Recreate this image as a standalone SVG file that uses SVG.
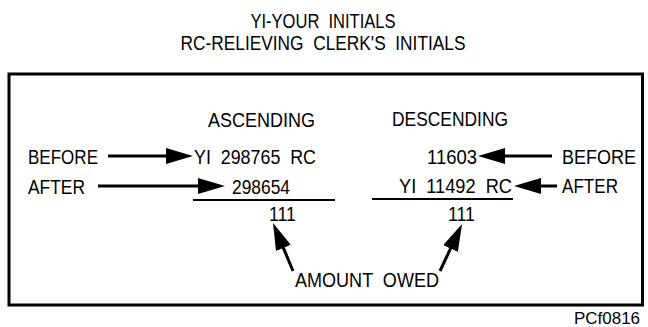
<svg xmlns="http://www.w3.org/2000/svg" width="648" height="327" viewBox="0 0 648 327" xml:space="preserve">
<defs>
<style>
text{font-family:"Liberation Sans",Arial,sans-serif;font-size:20px;fill:#000;white-space:pre}
.small{font-size:16.5px}
.ln{stroke:#000;stroke-width:3;fill:none}
.rule{stroke:#000;stroke-width:2;fill:none}
</style>
<marker id="ah" viewBox="0 0 27 16" refX="17" refY="8" markerWidth="27" markerHeight="16" markerUnits="userSpaceOnUse" orient="auto">
<path d="M0,0 L27,8 L0,16 Z" fill="#000"/>
</marker>
</defs>
<rect width="648" height="327" fill="#fff"/>
<g id="title">
<text x="323" y="28" text-anchor="middle" textLength="145" lengthAdjust="spacingAndGlyphs">YI-YOUR  INITIALS</text>
<text x="323" y="50" text-anchor="middle" textLength="285" lengthAdjust="spacingAndGlyphs">RC-RELIEVING  CLERK'S  INITIALS</text>
</g>
<g id="frame">
<rect x="9" y="74" width="633.5" height="231" fill="none" stroke="#000" stroke-width="3"/>
</g>
<g id="ascending">
<text x="208" y="127" textLength="107" lengthAdjust="spacingAndGlyphs">ASCENDING</text>
<text x="194" y="164" textLength="122" lengthAdjust="spacingAndGlyphs">YI  298765  RC</text>
<text x="232" y="194" textLength="58" lengthAdjust="spacingAndGlyphs">298654</text>
<line class="rule" x1="193" y1="200" x2="335" y2="200"/>
<text x="269" y="221" textLength="27" lengthAdjust="spacingAndGlyphs">111</text>
</g>
<g id="descending">
<text x="392" y="126" textLength="116" lengthAdjust="spacingAndGlyphs">DESCENDING</text>
<text x="427" y="164" textLength="50" lengthAdjust="spacingAndGlyphs">11603</text>
<text x="399" y="193" textLength="113" lengthAdjust="spacingAndGlyphs">YI  11492  RC</text>
<line class="rule" x1="372" y1="199" x2="513" y2="199"/>
<text x="448" y="221" textLength="27" lengthAdjust="spacingAndGlyphs">111</text>
</g>
<g id="before-left"><text x="28" y="164" textLength="70" lengthAdjust="spacingAndGlyphs">BEFORE</text></g>
<g id="after-left"><text x="28" y="194" textLength="57" lengthAdjust="spacingAndGlyphs">AFTER</text></g>
<g id="before-right"><text x="562" y="164" textLength="74" lengthAdjust="spacingAndGlyphs">BEFORE</text></g>
<g id="after-right"><text x="562" y="193" textLength="56" lengthAdjust="spacingAndGlyphs">AFTER</text></g>
<g id="amount-owed"><text x="295" y="287" textLength="144" lengthAdjust="spacingAndGlyphs">AMOUNT  OWED</text></g>
<g id="connectors">
<path class="ln" d="M108,156 H183" marker-end="url(#ah)"/>
<path class="ln" d="M98,186 H215" marker-end="url(#ah)"/>
<path class="ln" d="M552,156 H488" marker-end="url(#ah)"/>
<path class="ln" d="M557,186 H524" marker-end="url(#ah)"/>
<path class="ln" d="M293,271 L276.85,232.2" marker-end="url(#ah)"/>
<path class="ln" d="M440,271 L457.8,233.1" marker-end="url(#ah)"/>
</g>
<g id="label"><text class="small" x="640" y="324" text-anchor="end" textLength="66" lengthAdjust="spacingAndGlyphs">PCf0816</text></g>
</svg>
